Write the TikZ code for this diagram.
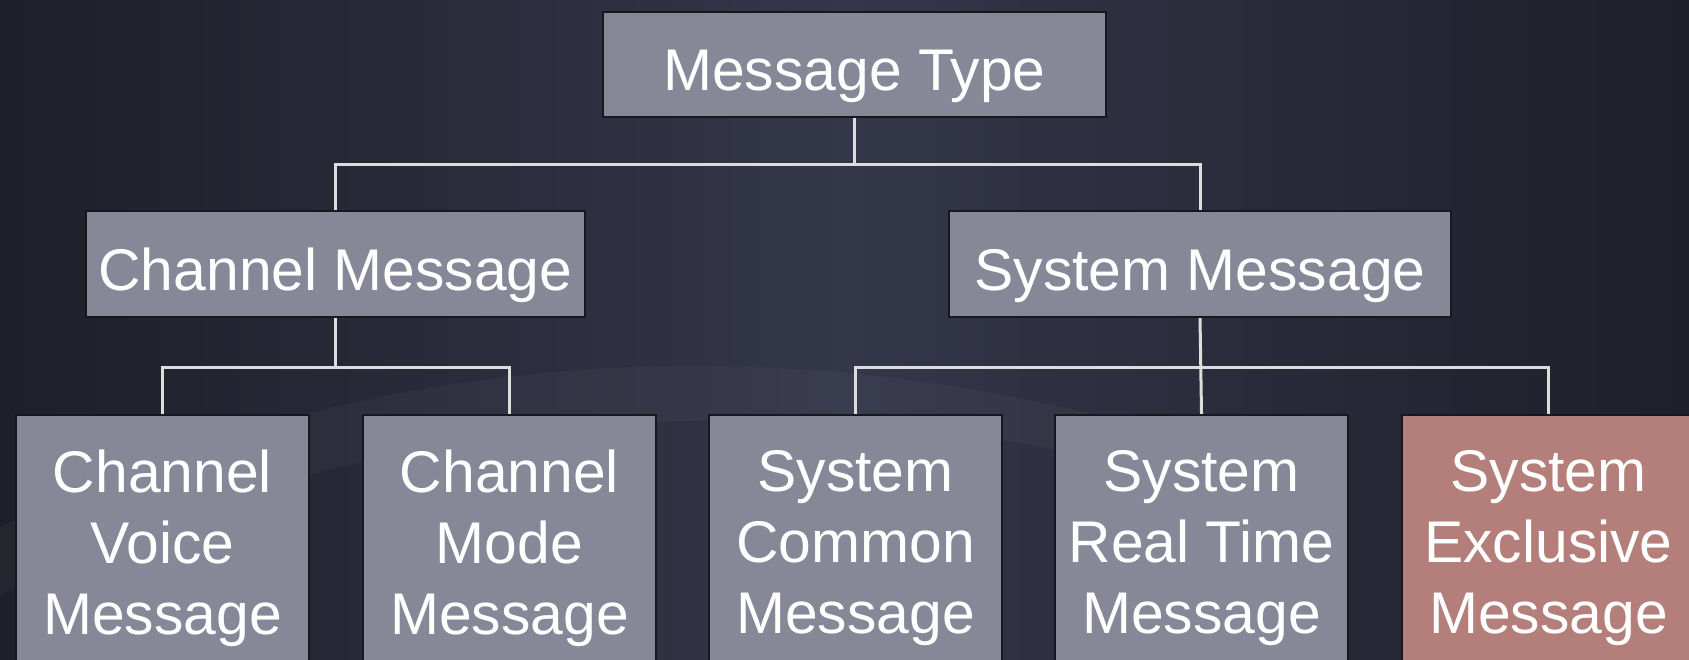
\documentclass[tikz,border=0pt]{standalone}
\usepackage{fontspec}
\setmainfont{Liberation Sans}
\definecolor{bgedge}{HTML}{1E1F29}
\definecolor{bgmid}{HTML}{34364A}
\definecolor{boxgray}{HTML}{878897}
\definecolor{boxrose}{HTML}{B47F7A}
\definecolor{boxline}{HTML}{17171E}
\definecolor{wirecol}{HTML}{DDDDDD}
\begin{document}
\begin{tikzpicture}[x=0.5pt,y=-0.5pt,
  box/.style={draw=boxline,line width=1.2pt,fill=boxgray,text=white,
    inner sep=0pt,align=center,font=\fontsize{29.4}{35.5}\selectfont},
  single/.style={box,text height=26pt,text depth=0pt},
  leaf/.style={box,minimum width=146.5pt,minimum height=133pt},
  wire/.style={draw=wirecol,line width=1.5pt}]
\useasboundingbox (0,0) rectangle (1689,659);
\begin{scope}
  \clip (0,0) rectangle (1689,659);
  % dark slide background with a soft lighter middle
  \shade[left color=bgedge,right color=bgedge,middle color=bgmid]
    (0,0) rectangle (1689,659);
  % faint swoosh in the lower left
  \fill[white,opacity=0.03]
    (-60,560) .. controls (250,380) and (700,300) .. (1150,430)
    -- (1150,470) .. controls (700,360) and (250,440) .. (-60,630) -- cycle;

  % tree nodes
  \node[single,minimum width=251.5pt,minimum height=52.5pt] (mt) at (854.5,64.5) {Message Type};
  \node[single,minimum width=249.5pt,minimum height=53pt] (cm) at (335.5,264) {Channel Message};
  \node[single,minimum width=251pt,minimum height=53pt] (sm) at (1200,264) {System Message};

  \node[leaf] (cv)  at (162.5,548)  {Channel\\Voice\\Message};
  \node[leaf] (cmo) at (509.5,548)  {Channel\\Mode\\Message};
  \node[leaf] (sc)  at (855.5,548)  {System\\Common\\Message};
  \node[leaf] (srt) at (1201.5,548) {System\\Real Time\\Message};
  \node[leaf,fill=boxrose] (se) at (1548.5,548) {System\\Exclusive\\Message};
\end{scope}

% junction points of the connectors
\coordinate (j1) at (854.5,164);
\coordinate (j2) at (335.5,367);
\coordinate (j3) at (1200,367);

% connectors
\draw[wire] (mt.south) -- (j1);
\draw[wire] (cm.north) |- (j1) -| (sm.north);
\draw[wire] (cm.south) -- (j2);
\draw[wire] (cv.north) |- (j2) -| (cmo.north);
\draw[wire] (sm.south) -- (srt.north);
\draw[wire] (sc.north) |- (j3) -| (se.north);
\end{tikzpicture}
\end{document}
